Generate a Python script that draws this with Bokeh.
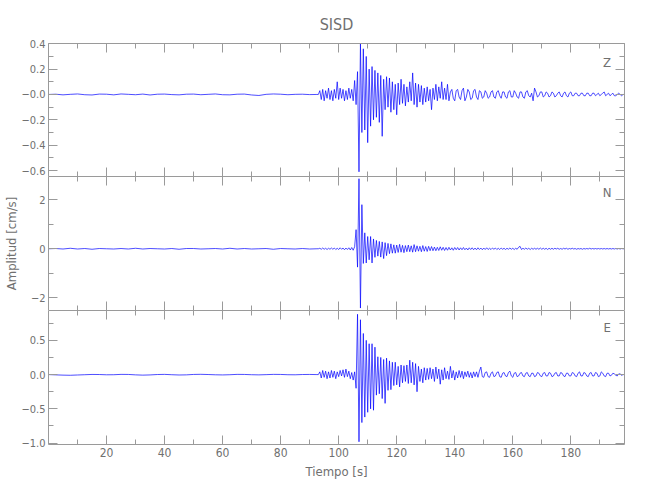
import numpy as np
from bokeh.plotting import figure
from bokeh.layouts import column
from bokeh.models import LinearAxis, FixedTicker, Range1d, Label
from bokeh.embed import file_html
from bokeh.resources import INLINE

station = "SISD"
components = ["Z", "N", "E"]
x_label = "Tiempo [s]"
y_label = "Amplitud [cm/s]"

t_pre_step = 2.5      # s, quiet part before the event
t_event_start = 93.0  # s
t_event_step = 0.5    # s

z_pre = [0.000, 0.002, -0.003, 0.001, 0.004, -0.002, -0.004, 0.003, 0.002, -0.003,
         0.004, 0.001, -0.002, 0.003, -0.004, 0.002, 0.003, -0.001, -0.003, 0.002,
         0.003, -0.002, 0.001, 0.004, -0.002, -0.003, 0.002, 0.003, -0.004, -0.008,
         0.001, 0.004, 0.002, -0.002, 0.001, 0.002, -0.001, 0.000]
z_event = [0.00, 0.03, -0.04, 0.04, -0.05, 0.03, -0.03, 0.05, -0.04, 0.03,
           -0.05, 0.04, -0.03, 0.10, -0.04, 0.05, -0.03, 0.04, -0.05, 0.03,
           -0.04, 0.05, -0.03, 0.04, -0.05, 0.11, -0.08, 0.18, -0.61, 0.40,
           -0.30, 0.36, -0.28, 0.30, -0.38, 0.20, -0.25, 0.22, -0.20, 0.19,
           -0.18, 0.17, -0.22, 0.15, -0.33, 0.12, -0.12, 0.14, -0.10, 0.13,
           -0.14, 0.10, -0.12, 0.08, -0.16, 0.09, -0.08, 0.12, -0.07, 0.08,
           -0.09, 0.06, -0.06, 0.10, -0.05, 0.17, -0.08, 0.09, -0.10, 0.08,
           -0.06, 0.07, -0.08, 0.05, -0.06, 0.06, -0.05, 0.04, -0.12, 0.05,
           -0.04, 0.08, -0.05, 0.06, -0.03, 0.10, -0.04, 0.05, -0.04, 0.08,
           -0.05, 0.02, 0.04, -0.03, -0.05, 0.03, 0.04, -0.02, -0.04, 0.03,
           0.05, -0.05, -0.02, 0.04, 0.02, -0.04, -0.03, 0.03, 0.04, -0.02,
           -0.04, 0.03, 0.02, -0.03, -0.02, 0.03, 0.01, -0.03, -0.02, 0.02,
           0.03, -0.02, -0.03, 0.02, 0.03, -0.01, -0.03, 0.02, 0.02, -0.02,
           -0.03, 0.02, 0.03, -0.02, -0.02, 0.03, 0.01, -0.02, -0.03, 0.02,
           0.02, -0.02, -0.03, 0.02, 0.03, -0.01, -0.02, 0.01, -0.05, 0.05,
           0.02, -0.02, -0.01, 0.02, 0.02, -0.02, -0.01, 0.02, 0.01, -0.02,
           -0.01, 0.02, 0.01, -0.02, -0.01, 0.01, 0.02, -0.01, -0.02, 0.01,
           0.02, -0.01, -0.02, 0.01, 0.02, -0.01, -0.01, 0.01, 0.01, -0.01,
           -0.01, 0.01, 0.01, -0.01, -0.01, 0.01, 0.01, -0.01, -0.01, 0.01,
           0.01, -0.01, 0.00, 0.01, -0.01, 0.00, 0.01, 0.02, -0.01, 0.00,
           0.01, -0.01, 0.00, 0.01, -0.01, -0.01, 0.00, 0.01, 0.00, -0.01,
           0.00, 0.00]

n_pre = [0.00, 0.01, -0.01, 0.02, -0.01, 0.01, -0.02, 0.01, 0.00, -0.01,
         0.01, -0.01, 0.02, -0.01, 0.01, 0.00, -0.01, 0.01, -0.02, 0.01,
         0.01, -0.01, 0.00, 0.01, -0.01, 0.02, -0.01, 0.01, -0.01, 0.00,
         0.01, -0.02, 0.01, 0.00, -0.01, 0.01, -0.01, 0.00]
n_event = [0.00, 0.02, -0.02, 0.03, -0.02, 0.02, -0.03, 0.02, -0.02, 0.03,
           -0.02, 0.03, -0.03, 0.02, -0.03, 0.04, -0.02, 0.03, -0.04, 0.03,
           -0.03, 0.04, -0.05, 0.05, -0.06, 0.08, 0.78, -0.75, 2.86, -2.42,
           1.80, -0.60, 0.65, -0.58, 0.50, -0.45, 0.50, -0.58, 0.40, -0.35,
           0.34, -0.30, 0.30, -0.34, 0.28, -0.40, 0.25, -0.28, 0.22, -0.20,
           0.20, -0.18, 0.16, -0.18, 0.15, -0.15, 0.18, -0.14, 0.14, -0.16,
           0.13, -0.12, 0.15, -0.12, 0.12, -0.14, 0.17, -0.12, 0.12, -0.10,
           0.10, -0.12, 0.13, -0.10, 0.09, -0.11, 0.10, -0.08, 0.09, -0.08,
           0.07, -0.08, 0.06, -0.07, 0.08, -0.06, 0.06, -0.07, 0.05, -0.06,
           0.06, -0.05, 0.04, -0.06, 0.05, -0.04, 0.05, -0.05, 0.04, -0.04,
           0.05, -0.04, 0.03, -0.05, 0.04, -0.03, 0.04, -0.04, 0.03, -0.04,
           0.04, -0.03, 0.03, -0.04, 0.03, -0.03, 0.04, -0.03, 0.02, -0.03,
           0.03, -0.02, 0.03, -0.03, 0.02, -0.03, 0.03, -0.02, 0.02, -0.03,
           0.02, -0.02, 0.03, -0.02, 0.02, -0.03, 0.02, -0.02, 0.06, 0.10,
           -0.03, 0.02, -0.02, 0.03, -0.02, 0.02, -0.03, 0.02, -0.02, 0.02,
           -0.02, 0.02, -0.02, 0.03, -0.02, 0.02, -0.02, 0.02, -0.03, 0.02,
           -0.02, 0.02, -0.02, 0.02, -0.01, 0.02, -0.02, 0.01, -0.02, 0.02,
           -0.01, 0.02, -0.02, 0.01, -0.01, 0.02, -0.01, 0.01, -0.02, 0.01,
           -0.01, 0.01, -0.02, 0.01, -0.01, 0.01, -0.01, 0.02, -0.01, 0.01,
           -0.01, 0.01, -0.01, 0.01, -0.01, 0.01, -0.01, 0.01, -0.01, 0.01,
           -0.01, 0.01, -0.01, 0.01, -0.01, 0.01, -0.01, 0.01, -0.01, 0.01,
           0.00, 0.00]

e_pre = [0.000, -0.004, -0.008, -0.010, -0.006, -0.002, 0.002, 0.001, -0.003, -0.002,
         0.003, 0.002, -0.004, -0.008, -0.005, 0.001, 0.003, -0.002, -0.006, -0.004,
         0.002, 0.004, 0.001, -0.003, -0.005, -0.002, 0.003, 0.002, -0.002, -0.004,
         -0.001, 0.003, 0.002, -0.002, -0.003, 0.001, 0.002, 0.000]
e_event = [0.00, 0.04, -0.05, 0.06, -0.04, 0.05, -0.06, 0.04, -0.05, 0.06,
           -0.04, 0.05, -0.06, 0.04, -0.03, 0.06, -0.02, 0.07, -0.04, 0.08,
           -0.03, 0.05, -0.06, 0.03, -0.08, 0.04, -0.20, 0.88, -0.98, 0.80,
           -0.70, 0.60, -0.62, 0.50, -0.55, 0.45, -0.50, 0.45, -0.52, 0.40,
           -0.30, 0.26, -0.28, 0.25, -0.35, 0.22, -0.42, 0.24, -0.23, 0.20,
           -0.22, 0.18, -0.16, 0.18, -0.15, 0.12, -0.18, 0.14, -0.12, 0.13,
           -0.10, 0.14, -0.13, 0.21, -0.12, 0.18, -0.15, 0.16, -0.25, 0.12,
           -0.10, 0.08, -0.12, 0.10, -0.08, 0.09, -0.07, 0.10, -0.06, 0.08,
           -0.10, 0.11, -0.06, 0.08, -0.14, 0.07, -0.08, 0.10, -0.06, 0.05,
           -0.07, 0.12, -0.05, 0.06, -0.08, 0.04, -0.05, 0.06, -0.04, 0.05,
           -0.06, 0.04, -0.03, 0.05, -0.04, 0.03, -0.05, 0.04, -0.03, 0.04,
           -0.04, 0.05, 0.11, -0.03, -0.04, 0.03, 0.04, -0.03, -0.04, 0.02,
           0.04, -0.03, -0.02, 0.03, 0.04, -0.03, -0.04, 0.02, 0.03, -0.02,
           -0.03, 0.03, 0.05, -0.02, -0.04, 0.02, 0.03, -0.03, -0.02, 0.02,
           0.03, -0.02, -0.03, 0.02, 0.03, -0.02, -0.03, 0.02, 0.02, -0.03,
           -0.02, 0.03, 0.02, -0.02, -0.03, 0.02, 0.03, -0.02, -0.02, 0.03,
           0.02, -0.03, -0.02, 0.02, 0.03, -0.02, -0.02, 0.03, 0.02, -0.02,
           -0.03, 0.02, 0.02, -0.02, -0.02, 0.03, 0.02, -0.02, -0.03, 0.02,
           0.04, -0.02, -0.02, 0.03, 0.02, -0.02, -0.03, 0.02, 0.03, -0.02,
           -0.02, 0.03, 0.02, -0.03, -0.02, 0.04, 0.02, -0.02, -0.03, 0.02,
           0.02, -0.02, -0.01, 0.02, 0.01, -0.01, -0.02, 0.01, 0.01, -0.01,
           0.00, 0.00]

x_ticks = [20, 40, 60, 80, 100, 120, 140, 160, 180]
x_minor = [10, 20, 30, 40, 50, 60, 70, 80, 90, 100, 110, 120, 130, 140, 150, 160, 170, 180, 190]

z_ticks = [-0.6, -0.4, -0.2, 0.0, 0.2, 0.4]
z_tick_labels = ["\u22120.6", "\u22120.4", "\u22120.2", "\u22120.0", "0.2", "0.4"]
z_minor = [-0.6, -0.5, -0.4, -0.3, -0.2, -0.1, 0.0, 0.1, 0.2, 0.3, 0.4]
n_ticks = [-2, 0, 2]
n_tick_labels = ["\u22122", "0", "2"]
n_minor = [-2, -1, 0, 1, 2]
e_ticks = [-1.0, -0.5, 0.0, 0.5]
e_tick_labels = ["\u22121.0", "\u22120.5", "0.0", "0.5"]
e_minor = [-1.0, -0.75, -0.5, -0.25, 0.0, 0.25, 0.5, 0.75]

y_limits = [(-0.647, 0.402), (-2.52, 2.95), (-1.02, 0.935)]
x_limits = (0.0, 198.5)

FONT = "DejaVu Sans Condensed"
TXT = "#707070"
AX = "#9a9a9a"
BLUE = "#0000ff"
OVERLAP = 8  # px of figure 1 canvas hanging below its frame, under figure 2


def times(pre, event):
    tp = t_pre_step * np.arange(len(pre))
    te = t_event_start + t_event_step * np.arange(len(event))
    return np.concatenate([tp, te]), np.concatenate([np.array(pre), np.array(event)])


def style(ax, labels, size="12px"):
    ax.major_tick_in = 9
    ax.major_tick_out = 0
    ax.minor_tick_in = 5
    ax.minor_tick_out = 0
    ax.axis_line_color = AX
    ax.major_tick_line_color = AX
    ax.minor_tick_line_color = AX
    ax.major_label_text_color = TXT
    ax.major_label_text_font = FONT
    ax.major_label_text_font_size = size
    ax.axis_label_text_color = TXT
    ax.axis_label_text_font = FONT
    ax.axis_label_text_font_style = "normal"
    ax.axis_label_text_font_size = "13px"
    ax.major_label_standoff = 3
    if not labels:
        ax.major_label_text_font_size = "0px"
        ax.major_label_text_color = None
        ax.major_label_standoff = 0


series = [times(z_pre, z_event), times(n_pre, n_event), times(e_pre, e_event)]
yticks = [(z_ticks, z_tick_labels, z_minor), (n_ticks, n_tick_labels, n_minor),
          (e_ticks, e_tick_labels, e_minor)]
label_y = [0.25, 2.3, 0.69]
frame_h = [133, 134, 134]

figs = []
for i in range(3):
    top = 43 if i == 0 else 0
    bottom = 48 if i == 2 else (OVERLAP if i == 0 else 0)
    p = figure(frame_width=576, frame_height=frame_h[i],
               x_range=Range1d(*x_limits), y_range=Range1d(*y_limits[i]),
               x_axis_location=None, y_axis_location=None,
               output_backend="svg", toolbar_location=None,
               min_border_left=36, min_border_right=22,
               min_border_top=top, min_border_bottom=bottom)
    p.grid.visible = False
    p.outline_line_color = None
    p.background_fill_color = "white"
    p.border_fill_color = None if i == 1 else "white"
    if i == 1:
        p.styles = {"margin-top": "-%dpx" % OVERLAP, "position": "relative", "z-index": "1"}

    xt = FixedTicker(ticks=x_ticks, minor_ticks=x_minor)
    ticks, labs, minor = yticks[i]
    yt = FixedTicker(ticks=ticks, minor_ticks=minor)

    xb = LinearAxis(ticker=xt)
    style(xb, i == 2)
    if i == 2:
        xb.axis_label = x_label
        xb.axis_label_standoff = 4
    p.add_layout(xb, "below")
    xa = LinearAxis(ticker=xt)
    style(xa, False)
    p.add_layout(xa, "above")

    yl = LinearAxis(ticker=yt)
    style(yl, True, "11px")
    yl.major_label_overrides = {t: l for t, l in zip(ticks, labs)}
    if i == 1:
        yl.axis_label = y_label
        yl.axis_label_standoff = 9
    p.add_layout(yl, "left")
    yr = LinearAxis(ticker=yt)
    style(yr, False)
    p.add_layout(yr, "right")

    if i == 0:
        p.title.text = station
        p.title.align = "center"
        p.title.text_font = FONT
        p.title.text_font_size = "16px"
        p.title.text_font_style = "normal"
        p.title.text_color = TXT
        p.title.standoff = 20

    tt, vv = series[i]
    p.line(tt, vv, line_color=BLUE, line_width=0.7)
    p.add_layout(Label(x=192.5, y=label_y[i], text=components[i],
                       text_font=FONT, text_font_size="13px", text_color=TXT,
                       text_align="center", text_baseline="middle"))
    figs.append(p)

layout = column(*figs, spacing=0)
open("out.html", "w").write(file_html(layout, INLINE))
